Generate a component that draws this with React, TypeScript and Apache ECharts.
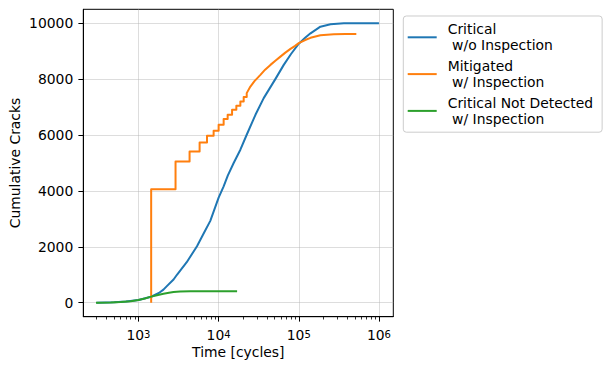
import React, { useEffect, useRef } from "react";
import * as echarts from "echarts";

// ---- data ----
const seriesNames = [
  "Critical\n w/o Inspection",
  "Mitigated\n w/ Inspection",
  "Critical Not Detected\n w/ Inspection",
];
const seriesColors = ["#1f77b4", "#ff7f0e", "#2ca02c"];

const criticalX = [300, 500, 700, 1000, 1440, 1800, 2050, 2260, 2740, 3020, 4000, 5370, 6500, 7870, 10000, 11550, 13000, 15400, 18670, 22400, 28800, 36500, 51200, 64900, 80000, 100000, 120000, 140000, 186000, 249000, 365000, 1000000];
const criticalY = [0, 15, 40, 100, 214, 350, 470, 593, 832, 1000, 1450, 2021, 2480, 2930, 3760, 4164, 4550, 5000, 5475, 6011, 6725, 7321, 8011, 8511, 8900, 9270, 9480, 9640, 9879, 9964, 10000, 10000];

// staircase part of the mitigated curve (value jumps at each x)
const mitigatedStepX = [1440, 2900, 4340, 5790, 7160, 8660, 10000, 11550, 12960, 14710, 16630, 18670, 20540, 22400];
const mitigatedStepY = [4065, 5057, 5414, 5736, 5975, 6154, 6368, 6571, 6725, 6904, 7046, 7200, 7360, 7500];
// smooth tail of the mitigated curve
const mitigatedTailX = [24900, 28000, 33200, 38000, 44300, 51000, 59000, 68000, 78700, 90000, 100000, 120000, 140000, 186000, 274000, 380000, 522000];
const mitigatedTailY = [7736, 7930, 8154, 8340, 8511, 8660, 8807, 8950, 9082, 9190, 9290, 9400, 9480, 9571, 9607, 9615, 9618];

const notDetectedX = [295, 450, 600, 800, 1000, 1200, 1400, 1700, 2050, 2400, 2740, 3300, 4430, 6000, 10000, 17000];
const notDetectedY = [0, 10, 25, 50, 95, 150, 210, 270, 320, 355, 380, 400, 412, 415, 415, 415];

const xMajorTicks = [1000, 10000, 100000, 1000000];
const xMinorTicks = [
  300, 400, 500, 600, 700, 800, 900,
  2000, 3000, 4000, 5000, 6000, 7000, 8000, 9000,
  20000, 30000, 40000, 50000, 60000, 70000, 80000, 90000,
  200000, 300000, 400000, 500000, 600000, 700000, 800000, 900000,
];
const yTicks = [0, 2000, 4000, 6000, 8000, 10000];

const xLabel = "Time [cycles]";
const yLabel = "Cumulative Cracks";

const xMin = 205;
const xMax = 1.51e6;
const yMin = -500;
const yMax = 10500;

function zip(xs: number[], ys: number[]) {
  return xs.map((x, i) => [x, ys[i]]);
}

function stairs(xs: number[], ys: number[]) {
  const pts: number[][] = [];
  xs.forEach((x, i) => {
    pts.push([x, i === 0 ? 0 : ys[i - 1]]);
    pts.push([x, ys[i]]);
  });
  return pts;
}

export default function App() {
  const ref = useRef<HTMLDivElement>(null);
  useEffect(() => {
    if (!ref.current) return;
    const chart = echarts.init(ref.current, null, { renderer: "svg" });
    const font = "DejaVu Sans";
    const fs = 13.9;
    const tickLine = { color: "#000", width: 1 };
    const seriesData = [
      zip(criticalX, criticalY),
      stairs(mitigatedStepX, mitigatedStepY).concat(zip(mitigatedTailX, mitigatedTailY)),
      zip(notDetectedX, notDetectedY),
    ];
    chart.setOption({
      animation: false,
      textStyle: { fontFamily: font, color: "#000" },
      grid: {
        left: 83.3,
        right: 219.7,
        top: 9.3,
        bottom: 58.3,
        show: true,
        borderColor: "#000",
        borderWidth: 1,
        backgroundColor: "transparent",
        containLabel: false,
        outerBoundsMode: "none",
      },
      xAxis: [
        {
          type: "log",
          logBase: 10,
          min: xMin,
          max: xMax,
          name: xLabel,
          nameLocation: "middle",
          nameGap: 29,
          nameMoveOverlap: false,
          nameTextStyle: { fontFamily: font, fontSize: fs, color: "#000", lineHeight: 12 },
          axisLine: { show: true, onZero: false, lineStyle: { color: "#000", width: 1 } },
          axisTick: { show: true, customValues: xMajorTicks, length: 4.9, lineStyle: tickLine },
          axisLabel: {
            customValues: xMajorTicks,
            margin: 12.5,
            formatter: (v: number) => `{b|10}{s|${Math.round(Math.log10(v))}}`,
            rich: {
              b: { fontFamily: font, fontSize: fs, color: "#000", verticalAlign: "bottom", lineHeight: 13 },
              s: { fontFamily: font, fontSize: 10, color: "#000", verticalAlign: "top", lineHeight: 5 },
            },
          },
          splitLine: { show: true, lineStyle: { color: "#b0b0b0", opacity: 0.55, width: 0.8 } },
        },
        {
          type: "log",
          logBase: 10,
          min: xMin,
          max: xMax,
          position: "bottom",
          offset: 0,
          axisLine: { show: false, onZero: false },
          axisLabel: { show: false },
          splitLine: { show: false },
          axisTick: { show: true, customValues: xMinorTicks, length: 2.8, lineStyle: { color: "#000", width: 0.8 } },
        },
      ],
      yAxis: {
        type: "value",
        min: yMin,
        max: yMax,
        name: yLabel,
        nameLocation: "middle",
        nameGap: 61,
        nameMoveOverlap: false,
        nameTextStyle: { fontFamily: font, fontSize: fs, color: "#000" },
        axisLine: { show: true, onZero: false, lineStyle: { color: "#000", width: 1 } },
        axisTick: { show: true, customValues: yTicks, length: 4.9, lineStyle: tickLine },
        axisLabel: {
          customValues: yTicks,
          margin: 10,
          fontFamily: font,
          fontSize: fs,
          color: "#000",
          formatter: (v: number) => String(v),
        },
        splitLine: { show: true, lineStyle: { color: "#b0b0b0", opacity: 0.55, width: 0.8 } },
      },
      legend: {
        orient: "vertical",
        left: 403.3,
        top: 16,
        padding: [5.3, 9, 5.3, 4.4],
        itemGap: 4.8,
        itemWidth: 29,
        itemHeight: 2,
        icon: "rect",
        backgroundColor: "rgba(255,255,255,0.8)",
        borderColor: "#cccccc",
        borderWidth: 1,
        borderRadius: 3,
        textStyle: { fontFamily: font, fontSize: fs, color: "#000", lineHeight: 16, padding: [0, 0, 0, 6] },
        data: seriesNames,
      },
      series: seriesData.map((d, i) => ({
        type: "line",
        name: seriesNames[i],
        data: d,
        symbol: "none",
        showSymbol: false,
        silent: true,
        color: seriesColors[i],
        itemStyle: { color: seriesColors[i] },
        lineStyle: { color: seriesColors[i], width: 2, join: "round" },
        xAxisIndex: 0,
        yAxisIndex: 0,
      })),
    });
    return () => chart.dispose();
  }, []);
  return (
    <div
      ref={ref}
      style={{ position: "absolute", left: 0, top: 0, width: 613, height: 375 }}
    />
  );
}
